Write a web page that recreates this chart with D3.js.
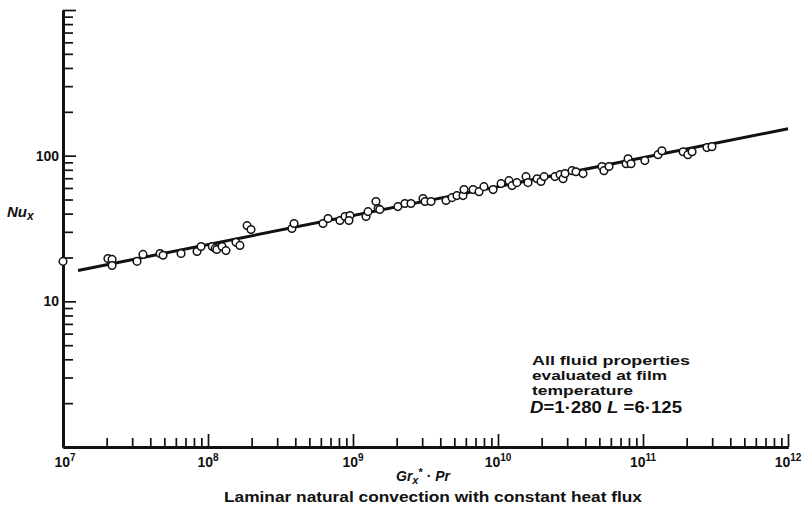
<!DOCTYPE html>
<html>
<head>
<meta charset="utf-8">
<script src="https://cdn.jsdelivr.net/npm/d3@7"></script>
<style>
  body { margin: 0; background: #fff; }
  text { font-family: "Liberation Sans", "DejaVu Sans", sans-serif; font-weight: 700; fill: #111; }
</style>
</head>
<body>
<div id="chart"></div>
<script>
// decades on the x axis (Grx*.Pr) and labelled y values (Nu_x)
const xDecades = [7, 8, 9, 10, 11, 12];
const yLabels = [10, 100];

const grPr = [1.0e7, 2.04e7, 2.18e7, 2.18e7, 3.24e7, 3.56e7, 4.67e7, 4.9e7, 6.52e7, 8.4e7,
  8.96e7, 1.07e8, 1.12e8, 1.15e8, 1.25e8, 1.33e8, 1.56e8, 1.66e8, 1.86e8, 1.98e8,
  3.79e8, 3.92e8, 6.21e8, 6.73e8, 8.13e8, 8.81e8, 9.53e8, 9.38e8, 1.23e9, 1.27e9,
  1.44e9, 1.49e9, 1.53e9, 2.04e9, 2.28e9, 2.51e9, 3.04e9, 3.14e9, 3.45e9, 4.38e9,
  4.82e9, 5.21e9, 5.74e9, 5.83e9, 6.73e9, 7.4e9, 8.0e9, 9.25e9, 1.05e10, 1.19e10,
  1.25e10, 1.35e10, 1.56e10, 1.61e10, 1.86e10, 1.98e10, 2.08e10, 2.47e10, 2.68e10, 2.81e10,
  2.9e10, 3.24e10, 3.45e10, 3.86e10, 5.21e10, 5.38e10, 5.83e10, 7.64e10, 7.89e10, 8.27e10,
  1.03e11, 1.27e11, 1.35e11, 1.89e11, 2.04e11, 2.18e11, 2.76e11, 2.99e11];
const nu = [18.8, 19.7, 19.4, 17.6, 18.8, 21.0, 21.3, 20.7, 21.3, 22.0,
  23.8, 23.8, 23.1, 22.7, 23.8, 22.3, 25.4, 24.2, 33.1, 31.1,
  31.6, 34.2, 34.2, 37.0, 35.9, 38.2, 38.8, 35.9, 38.2, 41.3,
  48.4, 43.4, 42.7, 44.7, 46.9, 46.9, 50.8, 48.4, 48.4, 49.2,
  51.5, 53.2, 53.2, 58.5, 58.5, 56.6, 61.3, 58.5, 64.3, 67.4,
  62.3, 65.3, 71.8, 65.3, 69.5, 66.4, 71.8, 71.8, 74.1, 69.5,
  75.3, 78.9, 77.6, 75.3, 84.2, 78.9, 84.2, 88.1, 95.3, 88.1,
  92.5, 101.6, 108.2, 106.5, 101.6, 106.5, 113.6, 115.3];

// correlation line end points
const fitX = [1.27e7, 1.0e12];
const fitY = [16.3, 153];

const width = 804;
const height = 517;

const x = d3.scaleLog().domain([1e7, 1e12]).range([63, 788]);
const y = d3.scaleLog().domain([1, 1000]).range([447, 10]);

const svg = d3.select("#chart").append("svg")
  .attr("width", width)
  .attr("height", height);

// minor and major tick values
const xMinor = [];
xDecades.slice(0, -1).forEach((e) => {
  for (let k = 2; k <= 9; k++) xMinor.push(k * Math.pow(10, e));
});
const yMinor = [];
[0, 1, 2].forEach((e) => {
  for (let k = 2; k <= 9; k++) yMinor.push(k * Math.pow(10, e));
});

// x axis
svg.append("g")
  .attr("class", "axis")
  .attr("transform", "translate(0," + y(1) + ")")
  .call(d3.axisBottom(x).tickValues(xMinor).tickSize(-9).tickSizeOuter(0).tickFormat(""));
svg.append("g")
  .attr("class", "axis major")
  .attr("transform", "translate(0," + y(1) + ")")
  .call(d3.axisBottom(x).tickValues(xDecades.slice(1).map((e) => Math.pow(10, e))).tickSize(-13).tickSizeOuter(0).tickFormat(""));

// y axis
svg.append("g")
  .attr("class", "axis")
  .attr("transform", "translate(" + x(1e7) + ",0)")
  .call(d3.axisLeft(y).tickValues(yMinor).tickSize(-10).tickSizeOuter(0).tickFormat(""));
svg.append("g")
  .attr("class", "axis major")
  .attr("transform", "translate(" + x(1e7) + ",0)")
  .call(d3.axisLeft(y).tickValues([10, 100, 1000]).tickSize(-13).tickSizeOuter(0).tickFormat(""));

svg.selectAll(".axis path.domain").attr("stroke", "#111").attr("stroke-width", 2.8);
svg.selectAll(".axis line").attr("stroke", "#111").attr("stroke-width", 1.7);

// x tick labels 10^n
xDecades.forEach((e) => {
  const t = svg.append("text")
    .attr("x", x(Math.pow(10, e)) + (e === 7 ? 2 : 0))
    .attr("y", 467)
    .attr("text-anchor", "middle")
    .style("font-size", "14px");
  t.append("tspan").text("10");
  t.append("tspan").attr("dy", -6).style("font-size", "10px").text(e);
});

// y tick labels
yLabels.forEach((v) => {
  svg.append("text")
    .attr("x", 59)
    .attr("y", y(v) + 5)
    .attr("text-anchor", "end")
    .style("font-size", "14px")
    .text(v);
});

// fitted line
svg.append("path")
  .datum(fitX.map((d, i) => [d, fitY[i]]))
  .attr("fill", "none")
  .attr("stroke", "#111")
  .attr("stroke-width", 3)
  .attr("d", d3.line().x((d) => x(d[0])).y((d) => y(d[1])));

// data points
svg.selectAll("circle")
  .data(grPr.map((d, i) => [d, nu[i]]))
  .enter()
  .append("circle")
  .attr("cx", (d) => x(d[0]))
  .attr("cy", (d) => y(d[1]))
  .attr("r", 3.8)
  .attr("fill", "#fff")
  .attr("stroke", "#111")
  .attr("stroke-width", 1.5);

// axis titles
const nuLabel = svg.append("text")
  .attr("x", 7)
  .attr("y", 217)
  .style("font-size", "15px")
  .style("font-style", "italic");
nuLabel.append("tspan").text("Nu");
nuLabel.append("tspan").attr("dy", 3).style("font-size", "12px").text("x");

const grLabel = svg.append("text")
  .attr("x", 396)
  .attr("y", 481)
  .style("font-size", "14px")
  .style("font-style", "italic");
grLabel.append("tspan").text("Gr");
grLabel.append("tspan").attr("dy", 3).style("font-size", "11px").text("x");
grLabel.append("tspan").attr("dy", -8).style("font-size", "11px").style("font-style", "normal").text("*");
grLabel.append("tspan").attr("dy", 5).style("font-style", "normal").text(" · ");
grLabel.append("tspan").text("Pr");

// note block
const note = ["All fluid properties", "evaluated at film", "temperature"];
const noteW = [158, 135, 101];
note.forEach((s, i) => {
  svg.append("text")
    .attr("x", 532)
    .attr("y", 365 + i * 15)
    .attr("textLength", noteW[i])
    .attr("lengthAdjust", "spacingAndGlyphs")
    .style("font-size", "13px")
    .text(s);
});
const dl = svg.append("text")
  .attr("x", 530)
  .attr("y", 413)
  .attr("textLength", 152)
  .attr("lengthAdjust", "spacingAndGlyphs")
  .style("font-size", "16px");
dl.append("tspan").style("font-style", "italic").text("D");
dl.append("tspan").text("=1·280 ");
dl.append("tspan").style("font-style", "italic").text("L");
dl.append("tspan").text(" =6·125");

// caption
svg.append("text")
  .attr("x", 224)
  .attr("y", 502)
  .attr("textLength", 418)
  .attr("lengthAdjust", "spacingAndGlyphs")
  .style("font-size", "15px")
  .text("Laminar natural convection with constant heat flux");
</script>
</body>
</html>
